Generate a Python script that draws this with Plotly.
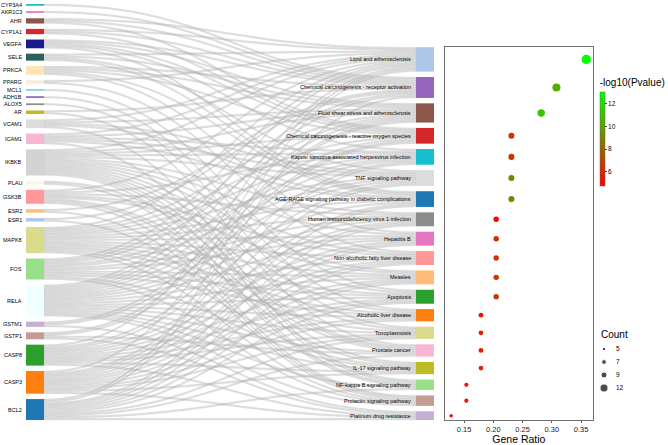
import plotly.graph_objects as go

# ---------------- data ----------------
genes = ["CYP3A4", "AKR1C3", "AHR", "CYP1A1", "VEGFA", "SELE", "PRKCA", "PPARG",
         "MCL1", "ADH1B", "ALOX5", "AR", "VCAM1", "ICAM1", "IKBKB", "PLAU", "GSK3B",
         "ESR2", "ESR1", "MAPK8", "FOS", "RELA", "GSTM1", "GSTP1", "CASP8", "CASP3", "BCL2"]
gene_colors = ["#17becf", "#e377c2", "#8c564b", "#d62728", "#1a1a8c", "#2f5f5a", "#ffe4b5",
               "#faebd7", "#87ceeb", "#9467bd", "#8c8c8c", "#bcbd22", "#dcdcdc", "#f7b6d2",
               "#d3d3d3", "#fdf5e6", "#ff9896", "#ffbb78", "#aec7e8", "#dbdb8d", "#98df8a",
               "#f0ffff", "#c5b0d5", "#c49c94", "#2ca02c", "#ff7f0e", "#1f77b4"]

pathways = ["Lipid and atherosclerosis",
            "Chemical carcinogenesis - receptor activation",
            "Fluid shear stress and atherosclerosis",
            "Chemical carcinogenesis - reactive oxygen species",
            "Kaposi sarcoma-associated herpesvirus infection",
            "TNF signaling pathway",
            "AGE-RAGE signaling pathway in diabetic complications",
            "Human immunodeficiency virus 1 infection",
            "Hepatitis B",
            "Non-alcoholic fatty liver disease",
            "Measles",
            "Apoptosis",
            "Alcoholic liver disease",
            "Toxoplasmosis",
            "Prostate cancer",
            "IL-17 signaling pathway",
            "NF-kappa B signaling pathway",
            "Prolactin signaling pathway",
            "Platinum drug resistance"]
pathway_colors = ["#aec7e8", "#9467bd", "#8c564b", "#d62728", "#17becf", "#dcdcdc", "#1f77b4",
                  "#8c8c8c", "#e377c2", "#ff9896", "#ffbb78", "#2ca02c", "#ff7f0e", "#dbdb8d",
                  "#f7b6d2", "#bcbd22", "#98df8a", "#c49c94", "#c5b0d5"]
counts = [14, 12, 11, 9, 9, 9, 9, 8, 8, 8, 8, 8, 7, 7, 7, 7, 6, 6, 5]
gene_ratio = [0.359, 0.308, 0.282, 0.231, 0.231, 0.231, 0.231, 0.205, 0.205, 0.205,
              0.205, 0.205, 0.179, 0.179, 0.179, 0.179, 0.154, 0.154, 0.128]
neg_log10_p = [13.05, 10.4, 11.2, 6.4, 6.6, 9.1, 9.0, 5.2, 6.2, 6.5,
               6.5, 6.8, 5.4, 5.7, 5.7, 5.9, 5.2, 5.5, 4.74]

pathway_genes = [
    ["RELA", "IKBKB", "MAPK8", "FOS", "CASP8", "CASP3", "BCL2", "GSK3B", "ICAM1", "VCAM1", "SELE", "PPARG", "CYP1A1", "AHR"],
    ["AHR", "CYP1A1", "CYP3A4", "AKR1C3", "VEGFA", "PRKCA", "ESR1", "ESR2", "AR", "RELA", "FOS", "BCL2"],
    ["RELA", "IKBKB", "MAPK8", "FOS", "ICAM1", "VCAM1", "SELE", "VEGFA", "GSTM1", "GSTP1", "PRKCA"],
    ["CYP1A1", "AHR", "GSTM1", "GSTP1", "IKBKB", "MAPK8", "RELA", "VEGFA", "PRKCA"],
    ["RELA", "IKBKB", "MAPK8", "FOS", "CASP8", "CASP3", "GSK3B", "VEGFA", "ICAM1"],
    ["RELA", "IKBKB", "MAPK8", "FOS", "CASP8", "CASP3", "ICAM1", "VCAM1", "SELE"],
    ["RELA", "MAPK8", "CASP3", "BCL2", "ICAM1", "VCAM1", "SELE", "VEGFA", "PRKCA"],
    ["RELA", "IKBKB", "MAPK8", "FOS", "CASP8", "CASP3", "BCL2", "GSK3B"],
    ["RELA", "IKBKB", "MAPK8", "FOS", "CASP8", "CASP3", "BCL2", "PRKCA"],
    ["RELA", "IKBKB", "MAPK8", "CASP8", "CASP3", "BCL2", "GSK3B", "PPARG"],
    ["RELA", "IKBKB", "MAPK8", "FOS", "CASP8", "CASP3", "BCL2", "GSK3B"],
    ["RELA", "IKBKB", "MAPK8", "FOS", "CASP8", "CASP3", "BCL2", "MCL1"],
    ["RELA", "IKBKB", "MAPK8", "FOS", "CASP8", "CASP3", "ADH1B"],
    ["RELA", "IKBKB", "MAPK8", "CASP8", "CASP3", "BCL2", "ALOX5"],
    ["RELA", "IKBKB", "GSK3B", "BCL2", "AR", "PLAU", "GSTP1"],
    ["RELA", "IKBKB", "MAPK8", "FOS", "CASP8", "CASP3", "GSK3B"],
    ["RELA", "IKBKB", "BCL2", "ICAM1", "VCAM1", "PLAU"],
    ["RELA", "MAPK8", "FOS", "GSK3B", "ESR1", "ESR2"],
    ["CASP8", "CASP3", "BCL2", "GSTM1", "GSTP1"],
]

size_legend_counts = [5, 7, 9, 12]
x_ticks = [0.15, 0.20, 0.25, 0.30, 0.35]
cbar_ticks = [6, 8, 10, 12]

# ---------------- layout constants (pixels) ----------------
W, H = 668, 445
SK_TOP, SK_BOT = 4, 420
SK_W = 440
NODE_W = 18
PAD = 5.4
LEFT_CX, RIGHT_CX = 35, 425
DOT_TOP = 47.3


def px2py(p):
    return 1 - p / H


# links
src, tgt, val = [], [], []
for j, gl in enumerate(pathway_genes):
    for g in gl:
        src.append(genes.index(g))
        tgt.append(len(genes) + j)
        val.append(1)

gene_tot = [src.count(i) for i in range(len(genes))]
total = sum(val)
skH = SK_BOT - SK_TOP
ky = min((skH - (len(genes) - 1) * PAD) / total, (skH - (len(pathways) - 1) * PAD) / total)


def centers(values, bottom_align=False):
    out = []
    acc = 0.0
    if bottom_align:
        acc = skH - (sum(values) * ky + (len(values) - 1) * PAD)
    for v in values:
        out.append(acc + v * ky / 2)
        acc += v * ky + PAD
    return out


gc = centers(gene_tot)
pc = centers(counts, bottom_align=True)

node_x = [LEFT_CX / SK_W] * len(genes) + [RIGHT_CX / SK_W] * len(pathways)
node_y = [c / skH for c in gc] + [c / skH for c in pc]

fig = go.Figure()

fig.add_trace(go.Sankey(
    domain=dict(x=[0, SK_W / W], y=[px2py(SK_BOT), px2py(SK_TOP)]),
    arrangement="fixed",
    node=dict(
        label=[""] * (len(genes) + len(pathways)),
        customdata=genes + pathways,
        hovertemplate="%{customdata}<extra></extra>",
        color=gene_colors + pathway_colors,
        pad=PAD,
        thickness=NODE_W,
        line=dict(width=0),
        x=node_x,
        y=node_y,
    ),
    link=dict(
        source=src, target=tgt, value=val,
        color="rgba(185,185,185,0.45)",
        line=dict(color="rgba(150,150,150,0.35)", width=0.3),
    ),
))

# dot plot
sizes = [3.5 + (c - 5) * 0.65 for c in counts]
fig.add_trace(go.Scatter(
    x=gene_ratio, y=pc, mode="markers",
    text=pathways, customdata=counts,
    hovertemplate="%{text}<br>Gene Ratio %{x}<br>Count %{customdata}<extra></extra>",
    marker=dict(
        size=sizes, color=neg_log10_p, cmin=4.74, cmax=13.05,
        colorscale=[[0, "#ff0000"], [1, "#00ff00"]],
        line=dict(width=0), opacity=1,
        colorbar=dict(
            title=dict(text="-log10(Pvalue)", side="top", font=dict(size=10, color="black")),
            x=598 / W, xanchor="left", y=px2py(76), yanchor="top",
            len=110 / H, lenmode="fraction", thickness=5, thicknessmode="pixels",
            tickvals=cbar_ticks, ticks="outside", ticklen=2, tickwidth=0.6,
            tickfont=dict(size=6.5, color="black"),
            outlinewidth=0.5, outlinecolor="#666", xpad=2, ypad=0,
        ),
    ),
    xaxis="x", yaxis="y", showlegend=False,
))

# size legend
leg_sizes = [3.5 + (c - 5) * 0.65 for c in size_legend_counts]
fig.add_trace(go.Scatter(
    x=[1.2] * len(size_legend_counts), y=list(range(len(size_legend_counts))),
    mode="markers", marker=dict(size=leg_sizes, color="black"),
    xaxis="x3", yaxis="y3", showlegend=False, hoverinfo="skip",
))
fig.add_trace(go.Scatter(
    x=[3.6] * len(size_legend_counts), y=list(range(len(size_legend_counts))),
    mode="text", text=[str(c) for c in size_legend_counts], textposition="middle right",
    textfont=dict(size=6.5, color="black"),
    xaxis="x3", yaxis="y3", showlegend=False, hoverinfo="skip",
))

annotations = []
for g, c in zip(genes, gc):
    annotations.append(dict(text=g, x=23.5 / W, y=px2py(SK_TOP + c), xref="paper", yref="paper",
                            xanchor="right", yanchor="middle", showarrow=False,
                            font=dict(size=5.5, color="black")))
for p, c in zip(pathways, pc):
    annotations.append(dict(text=p, x=413.5 / W, y=px2py(SK_TOP + c), xref="paper", yref="paper",
                            xanchor="right", yanchor="middle", showarrow=False,
                            font=dict(size=5.5, color="black")))
annotations.append(dict(text="Count", x=599 / W, y=px2py(334), xref="paper", yref="paper",
                        xanchor="left", yanchor="middle", showarrow=False,
                        font=dict(size=10, color="black")))

fig.update_layout(
    width=W, height=H, margin=dict(l=0, r=0, t=0, b=0),
    paper_bgcolor="white", plot_bgcolor="white",
    font=dict(family="Liberation Sans, Arial, sans-serif", color="black"),
    xaxis=dict(domain=[444.7 / W, 593 / W], range=[0.117, 0.3705],
               tickvals=x_ticks, ticktext=["%.2f" % t for t in x_ticks],
               tickfont=dict(size=7.5, color="#222"), ticks="outside", ticklen=2,
               tickcolor="#666", showgrid=False, zeroline=False,
               showline=True, linecolor="#707070", linewidth=1, mirror=True,
               title=dict(text="Gene Ratio", font=dict(size=10.5, color="black"), standoff=1)),
    yaxis=dict(domain=[px2py(SK_BOT), px2py(DOT_TOP)], range=[skH, DOT_TOP - SK_TOP],
               showticklabels=False, ticks="", showgrid=False, zeroline=False,
               showline=True, linecolor="#707070", linewidth=1, mirror=True),
    xaxis3=dict(domain=[598 / W, 648 / W], range=[0, 10], visible=False, fixedrange=True),
    yaxis3=dict(domain=[px2py(394.5), px2py(342.5)], range=[3.5, -0.5], visible=False,
                fixedrange=True),
    annotations=annotations,
)

fig.write_html("out.html", config={"displayModeBar": False},
               post_script="document.body.style.margin='0px';")
